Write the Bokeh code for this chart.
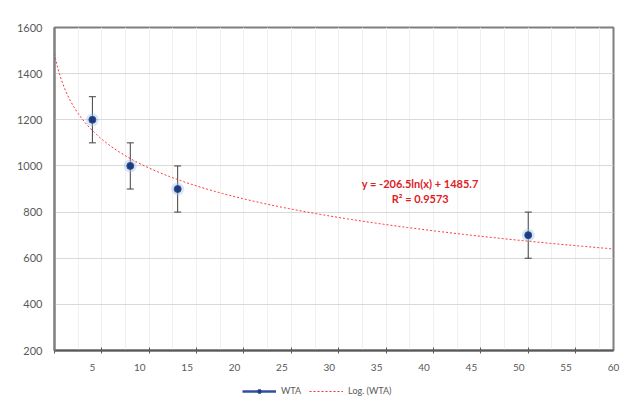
import numpy as np
from bokeh.plotting import figure
from bokeh.layouts import column
from bokeh.models import (ColumnDataSource, FixedTicker, Legend, LegendItem, Whisker, Label)
from bokeh.embed import file_html
from bokeh.resources import INLINE

# data
x_vals = [5, 9, 14, 51]
y_vals = [1200, 1000, 900, 700]
err = [100, 100, 100, 100]
# trendline coefficients (from the printed equation)
coef_a = -206.5
coef_b = 1485.7
r2 = 0.9573
x_label_ticks = [5, 10, 15, 20, 25, 30, 35, 40, 45, 50, 55, 60]
x_mark_ticks = [1, 6, 11, 16, 21, 26, 31, 36, 41, 46, 51, 56]
x_grid_ticks = [1 + 2.5 * k for k in range(24)]
y_ticks = [200, 400, 600, 800, 1000, 1200, 1400, 1600]

FONT = "Lato"

p = figure(width=620, height=377, x_range=(1, 60), y_range=(200, 1600),
           output_backend="svg", toolbar_location=None,
           min_border_left=54, min_border_right=7, min_border_top=27, min_border_bottom=27)
p.background_fill_color = "white"
p.border_fill_color = "white"
p.outline_line_color = "#7f7f7f"
p.outline_line_width = 2

# axes
p.xaxis.ticker = FixedTicker(ticks=x_label_ticks, minor_ticks=x_mark_ticks)
p.xaxis.major_tick_in = 0
p.xaxis.major_tick_out = 0
p.xaxis.minor_tick_in = 3
p.xaxis.minor_tick_out = 3
p.xaxis.minor_tick_line_color = "#595959"
p.xaxis.minor_tick_line_width = 1
p.xaxis.axis_line_color = "#595959"
p.xaxis.axis_line_width = 2
p.xaxis.major_label_standoff = 10
p.xaxis.major_label_text_font = FONT
p.xaxis.major_label_text_font_size = "10px"
p.xaxis.major_label_text_color = "#595959"

p.yaxis.ticker = FixedTicker(ticks=y_ticks)
p.yaxis.major_tick_in = 0
p.yaxis.major_tick_out = 0
p.yaxis.minor_tick_line_color = None
p.yaxis.axis_line_color = "#7f7f7f"
p.yaxis.axis_line_width = 2
p.yaxis.major_label_standoff = 12
p.yaxis.major_label_text_font = FONT
p.yaxis.major_label_text_font_size = "11px"
p.yaxis.major_label_text_color = "#595959"

# grids
p.xgrid.ticker = FixedTicker(ticks=x_grid_ticks)
p.xgrid.grid_line_color = "#f0f0f0"
p.xgrid.grid_line_width = 1
p.ygrid.ticker = FixedTicker(ticks=y_ticks)
p.ygrid.grid_line_color = "#d9d9d9"
p.ygrid.grid_line_width = 1

# trendline
tx = np.linspace(1, 60, 400)
ty = coef_a * np.log(tx) + coef_b
trend_style = dict(line_color="#ff3030", line_width=1, line_dash="2 2")
p.line(tx, ty, **trend_style)

# error bars
src = ColumnDataSource(dict(x=x_vals, y=y_vals,
                            lo=[y - e for y, e in zip(y_vals, err)],
                            hi=[y + e for y, e in zip(y_vals, err)]))
wh = Whisker(base="x", lower="lo", upper="hi", source=src,
             line_color="#404040", line_width=1)
wh.upper_head.size = 7
wh.lower_head.size = 7
wh.upper_head.line_color = "#404040"
wh.lower_head.line_color = "#404040"
p.add_layout(wh)

# markers with glow
p.scatter("x", "y", source=src, size=13, fill_color="#9dc3e6", fill_alpha=0.4, line_color=None)
p.scatter("x", "y", source=src, size=7, fill_color="#1f3a7a", line_color="#2f4f9f")

# equation labels
p.add_layout(Label(x=39.6, y=925, text=f"y = {coef_a}ln(x) + {coef_b}", text_align="center",
                   text_baseline="middle", text_font=FONT, text_font_size="11px",
                   text_font_style="bold", text_color="#e0201f"))
p.add_layout(Label(x=39.6, y=860, text=f"R² = {r2}", text_align="center",
                   text_baseline="middle", text_font=FONT, text_font_size="11px",
                   text_font_style="bold", text_color="#e0201f"))

# legend strip (glyph data lie outside its visible range; only the legend shows)
lg = figure(width=620, height=28, output_backend="svg", toolbar_location=None,
            x_axis_type=None, y_axis_type=None,
            min_border_left=0, min_border_right=0, min_border_top=0, min_border_bottom=0,
            x_range=(0, 1), y_range=(0, 1))
lg.outline_line_color = None
lg.background_fill_color = "white"
lg.border_fill_color = "white"
l1 = lg.line([-5, -4], [-5, -4], line_color="#2f4f9f", line_width=2.5)
l1m = lg.scatter([-5], [-5], size=5, fill_color="#1f3a7a", line_color="#2f4f9f")
l2 = lg.line([-5, -4], [-5, -4], **trend_style)
legend = Legend(items=[LegendItem(label="WTA", renderers=[l1, l1m]),
                       LegendItem(label="Log. (WTA)", renderers=[l2])],
                orientation="horizontal", location=(188, 9),
                label_text_font=FONT, label_text_font_size="9px", label_text_color="#595959",
                glyph_width=34, glyph_height=10, label_height=10, label_standoff=5,
                spacing=8, padding=2, margin=0, border_line_color=None,
                background_fill_alpha=0)
lg.add_layout(legend)

open("out.html", "w").write(file_html(column(p, lg, spacing=0), INLINE))
